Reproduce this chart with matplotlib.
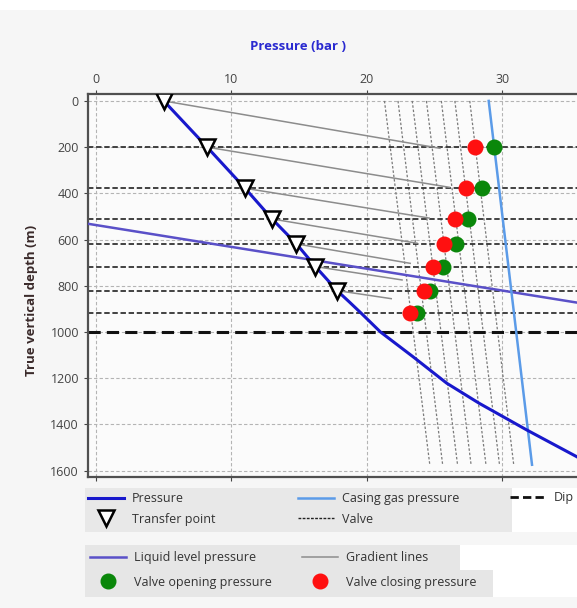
import numpy as np
import matplotlib
matplotlib.use("Agg")
import matplotlib.pyplot as plt
from matplotlib.lines import Line2D
from matplotlib.patches import Rectangle

plt.rcParams['font.family'] = ['Open Sans', 'DejaVu Sans']

# -------------------
# Datos
# -------------------
# curva de presion (bar, m)
pres_p = [5.0, 8.2, 11.0, 13.0, 14.8, 16.2, 17.8, 18.7, 19.6, 21.0, 23.4, 25.9, 28.3, 31.8, 35.5, 37.5]
pres_d = [0, 200, 378, 511, 619, 717, 821, 870, 920, 1000, 1107, 1222, 1309, 1424, 1540, 1606]

# puntos de transferencia
tp_p = [5.0, 8.2, 11.0, 13.0, 14.8, 16.2, 17.8]
tp_d = [0, 200, 378, 511, 619, 717, 821]

# lineas de gradiente (desde cada punto de transferencia)
grad_end_p = [25.4, 26.1, 24.6, 23.7, 23.2, 22.6, 21.8]
grad_end_d = [205, 374, 507, 616, 703, 775, 856]

# valvulas
valve_d = [200, 378, 511, 619, 717, 821, 919]
open_p = [29.4, 28.5, 27.5, 26.6, 25.6, 24.7, 23.7]
close_p = [28.0, 27.3, 26.5, 25.7, 24.9, 24.2, 23.2]

# lineas casi verticales de las valvulas
vtop_p = [21.3, 22.3, 23.35, 24.4, 25.5, 26.5, 27.6]
vbot_p = [24.65, 25.6, 26.7, 27.7, 28.8, 29.8, 30.85]
vtop_d = 0
vbot_d = 1576

# presion de gas en el casing
cas_p = [29.0, 32.2]
cas_d = [0, 1575]

# presion de nivel de liquido
liq_p = [-1.0, 37.0]
liq_d = [528, 887]

dip_d = 1000

xticks = [0, 10, 20, 30]
yticks = [0, 200, 400, 600, 800, 1000, 1200, 1400, 1600]

# -------------------
# Grafico
# -------------------
W, H = 577, 608
fig = plt.figure(figsize=(W / 100, H / 100), dpi=100, facecolor='#f6f6f6')

def px_box(x0, y0, x1, y1):
    # caja en pixeles -> coordenadas de figura
    return [x0 / W, 1 - y1 / H, (x1 - x0) / W, (y1 - y0) / H]

def fondo(x0, y0, x1, y1, color):
    fig.patches.append(Rectangle((x0 / W, 1 - y1 / H), (x1 - x0) / W, (y1 - y0) / H,
                                 transform=fig.transFigure, facecolor=color,
                                 edgecolor='none', zorder=0))

fondo(0, 0, W, 10, 'white')

ax = fig.add_axes(px_box(88, 94, 597, 477))
ax.set_facecolor('#fbfbfb')
ax.set_xlim(-0.6, 37.0)
ax.set_ylim(1628, -30)

ax.set_xticks(xticks)
ax.set_yticks(yticks)
ax.xaxis.tick_top()
ax.tick_params(axis='both', labelsize=9, colors='#444444', length=3, width=0.8)
ax.tick_params(axis='x', bottom=True, top=True, labelbottom=False, labeltop=True, pad=3)
ax.grid(True, color='#b4b4b4', linestyle=(0, (3, 2)), linewidth=0.8)
for s in ax.spines.values():
    s.set_color('#505050')
    s.set_linewidth(1.6)

# lineas verticales de valvulas
for a, b in zip(vtop_p, vbot_p):
    ax.plot([a, b], [vtop_d, vbot_d], color='#7a7a7a', lw=0.9, linestyle=(0, (2, 1.5)), zorder=2)

# lineas horizontales de valvulas
for d in valve_d:
    ax.axhline(d, color='#333333', lw=1.3, linestyle=(0, (3, 1.5)), zorder=2)

ax.axhline(dip_d, color='#111111', lw=2.2, linestyle=(0, (4, 2)), zorder=2)

# lineas de gradiente
for p0, d0, p1, d1 in zip(tp_p, tp_d, grad_end_p, grad_end_d):
    ax.plot([p0, p1], [d0, d1], color='#8c8c8c', lw=1.1, zorder=3)

ax.plot(liq_p, liq_d, color='#5a50c8', lw=1.8, zorder=4)
ax.plot(cas_p, cas_d, color='#5b9be8', lw=1.8, zorder=4)
ax.plot(pres_p, pres_d, color='#1818cc', lw=2.2, zorder=5)

ax.plot(open_p, valve_d, 'o', color='#0a870a', markersize=10.5, zorder=6)
ax.plot(close_p, valve_d, 'o', color='#ff1010', markersize=10.5, zorder=7)

ax.plot(tp_p, tp_d, 'v', markerfacecolor='white', markeredgecolor='black',
        markersize=11, markeredgewidth=1.8, linestyle='none', zorder=8)

fig.text(298 / W, 1 - 47 / H, 'Pressure (bar )', color='#2a2ad0', fontsize=9.5,
         fontweight='bold', ha='center', va='center')
fig.text(32 / W, 1 - 300 / H, 'True vertical depth (m)', color='#3a2a2a', fontsize=9.5,
         fontweight='bold', ha='center', va='center', rotation=90)

# -------------------
# Leyendas
# -------------------
fondo(85, 488, 512, 532, '#e8e8e8')
fondo(512, 488, W, 532, 'white')
fondo(85, 545, 460, 570, '#e6e6e6')
fondo(85, 570, 493, 597, '#e6e6e6')
fondo(460, 545, W, 570, 'white')
fondo(493, 570, W, 597, 'white')

h_pres = Line2D([], [], color='#1818cc', lw=2.2)
h_tp = Line2D([], [], marker='v', markerfacecolor='white', markeredgecolor='black',
              markersize=11, markeredgewidth=1.8, linestyle='none')
h_cas = Line2D([], [], color='#5b9be8', lw=1.8)
h_valve = Line2D([], [], color='#222222', lw=1.0, linestyle=(0, (2, 1)))
h_dip = Line2D([], [], color='#111111', lw=2.0, linestyle=(0, (3, 1.5)))
h_liq = Line2D([], [], color='#5a50c8', lw=1.8)
h_grad = Line2D([], [], color='#8c8c8c', lw=1.1)
h_open = Line2D([], [], marker='o', color='#0a870a', markersize=10.5, linestyle='none')
h_close = Line2D([], [], marker='o', color='#ff1010', markersize=10.5, linestyle='none')

cols = [
    ([h_pres, h_tp], ['Pressure', 'Transfer point'], 88, 509, 0.6),
    ([h_cas, h_valve], ['Casing gas pressure', 'Valve'], 298, 509, 0.6),
    ([h_dip], ['Dip'], 510, 498, 0.6),
    ([h_liq, h_open], ['Liquid level pressure', 'Valve opening pressure'], 90, 570, 0.93),
    ([h_grad, h_close], ['Gradient lines', 'Valve closing pressure'], 302, 570, 0.93),
]
for hs, ls, x0, yc, sp in cols:
    fig.legend(hs, ls, loc='center left', bbox_to_anchor=(x0 / W, 1 - yc / H),
               frameon=False, fontsize=9, handlelength=2.9, handletextpad=0.6,
               labelspacing=sp, borderaxespad=0, borderpad=0, labelcolor='#333333')

plt.savefig('out.png', dpi=100, facecolor=fig.get_facecolor())
plt.close()
